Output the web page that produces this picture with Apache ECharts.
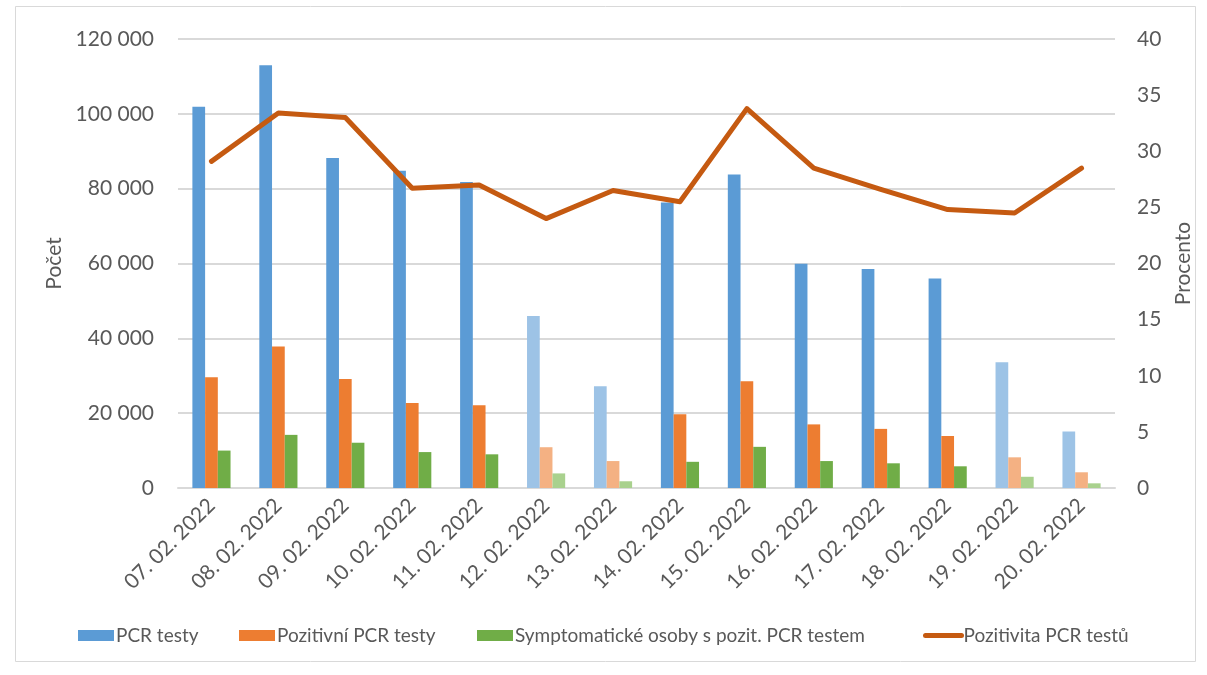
<!DOCTYPE html>
<html>
<head>
<meta charset="utf-8">
<script src="https://cdn.jsdelivr.net/npm/echarts@6/dist/echarts.min.js"></script>
<style>
html,body{margin:0;padding:0;background:#fff;}
#chart{width:1207px;height:675px;}
</style>
</head>
<body>
<div id="chart"></div>
<script>
const categories = ['07. 02. 2022','08. 02. 2022','09. 02. 2022','10. 02. 2022','11. 02. 2022','12. 02. 2022','13. 02. 2022','14. 02. 2022','15. 02. 2022','16. 02. 2022','17. 02. 2022','18. 02. 2022','19. 02. 2022','20. 02. 2022'];
const weekendDays = ['12. 02. 2022','13. 02. 2022','19. 02. 2022','20. 02. 2022'];
const pcrTests = [101900,113000,88200,84800,81800,46000,27200,76300,83800,59900,58500,56000,33600,15100];
const positiveTests = [29600,37800,29100,22700,22100,10900,7200,19700,28500,17000,15800,13900,8200,4200];
const symptomatic = [10000,14200,12100,9600,9000,3900,1800,7000,11000,7200,6600,5800,3000,1250];
const positivity = [29.1,33.4,33.0,26.7,27.0,24.0,26.5,25.5,33.8,28.5,26.6,24.8,24.5,28.5];
const seriesNames = ['PCR testy','Pozitivní PCR testy','Symptomatické osoby s pozit. PCR testem','Pozitivita PCR testů'];
const leftTicks = {min:0, max:120000, step:20000};
const rightTicks = {min:0, max:40, step:5};

const FONT = 'Lato';
const TXT = '#595959';
const LINE = '#C55A11';

function withWeekend(values, color, lightColor){
  return values.map((v,i)=>{
    if (weekendDays.indexOf(categories[i]) >= 0) return {value:v, itemStyle:{color:lightColor}};
    return v;
  });
}

const legendLefts = [73, 234, 472, 918];
const legends = seriesNames.map((n,i)=>{
  const item = {name:n};
  if (i < 3) item.icon = 'rect';
  else { item.itemStyle = {opacity:0}; item.lineStyle = {width:5, cap:'round', color:LINE}; }
  return {
    left:legendLefts[i], top:621, itemWidth:36, itemHeight:11, itemGap:0,
    textStyle:{fontFamily:FONT, fontSize:19, color:TXT, padding:[0,0,0,-3]},
    data:[item]
  };
});

const chart = echarts.init(document.getElementById('chart'), null, {renderer:'canvas'});
chart.setOption({
  animation:false,
  backgroundColor:'#ffffff',
  textStyle:{fontFamily:FONT},
  grid:{left:178, right:92, top:39, bottom:187},
  graphic:[{
    type:'rect', shape:{x:15.5, y:6.5, width:1180, height:655}, silent:true,
    style:{fill:'none', stroke:'#D9D9D9', lineWidth:1}
  }],
  legend:legends,
  xAxis:{
    type:'category', data:categories,
    axisLine:{show:true, lineStyle:{color:'#D9D9D9', width:2}},
    axisTick:{show:false},
    axisLabel:{rotate:45, color:TXT, fontSize:21, fontFamily:FONT, margin:14, interval:0}
  },
  yAxis:[{
    type:'value', min:leftTicks.min, max:leftTicks.max, interval:leftTicks.step,
    name:'Počet', nameLocation:'middle', nameRotate:90, nameGap:112,
    nameTextStyle:{color:TXT, fontSize:21, fontFamily:FONT},
    axisLine:{show:false}, axisTick:{show:false},
    axisLabel:{color:TXT, fontSize:21, fontFamily:FONT, margin:24,
      formatter:v=>String(v).replace(/\B(?=(\d{3})+(?!\d))/g,' ')},
    splitLine:{lineStyle:{color:'#D9D9D9', width:2}}
  },{
    type:'value', min:rightTicks.min, max:rightTicks.max, interval:rightTicks.step,
    name:'Procento', nameLocation:'middle', nameRotate:90, nameGap:58,
    nameTextStyle:{color:TXT, fontSize:21, fontFamily:FONT},
    axisLine:{show:false}, axisTick:{show:false},
    axisLabel:{color:TXT, fontSize:21, fontFamily:FONT, margin:22},
    splitLine:{show:false}
  }],
  series:[
    {name:seriesNames[0], type:'bar', yAxisIndex:0, barWidth:'19%', barGap:'0%',
     itemStyle:{color:'#5B9BD5'}, data:withWeekend(pcrTests,'#5B9BD5','#9DC3E6')},
    {name:seriesNames[1], type:'bar', yAxisIndex:0, barWidth:'19%', barGap:'0%',
     itemStyle:{color:'#ED7D31'}, data:withWeekend(positiveTests,'#ED7D31','#F4B183')},
    {name:seriesNames[2], type:'bar', yAxisIndex:0, barWidth:'19%', barGap:'0%',
     itemStyle:{color:'#70AD47'}, data:withWeekend(symptomatic,'#70AD47','#A9D18E')},
    {name:seriesNames[3], type:'line', yAxisIndex:1, symbol:'none', z:5,
     lineStyle:{color:LINE, width:5, cap:'round', join:'round'},
     itemStyle:{color:LINE}, data:positivity}
  ]
});
</script>
</body>
</html>
